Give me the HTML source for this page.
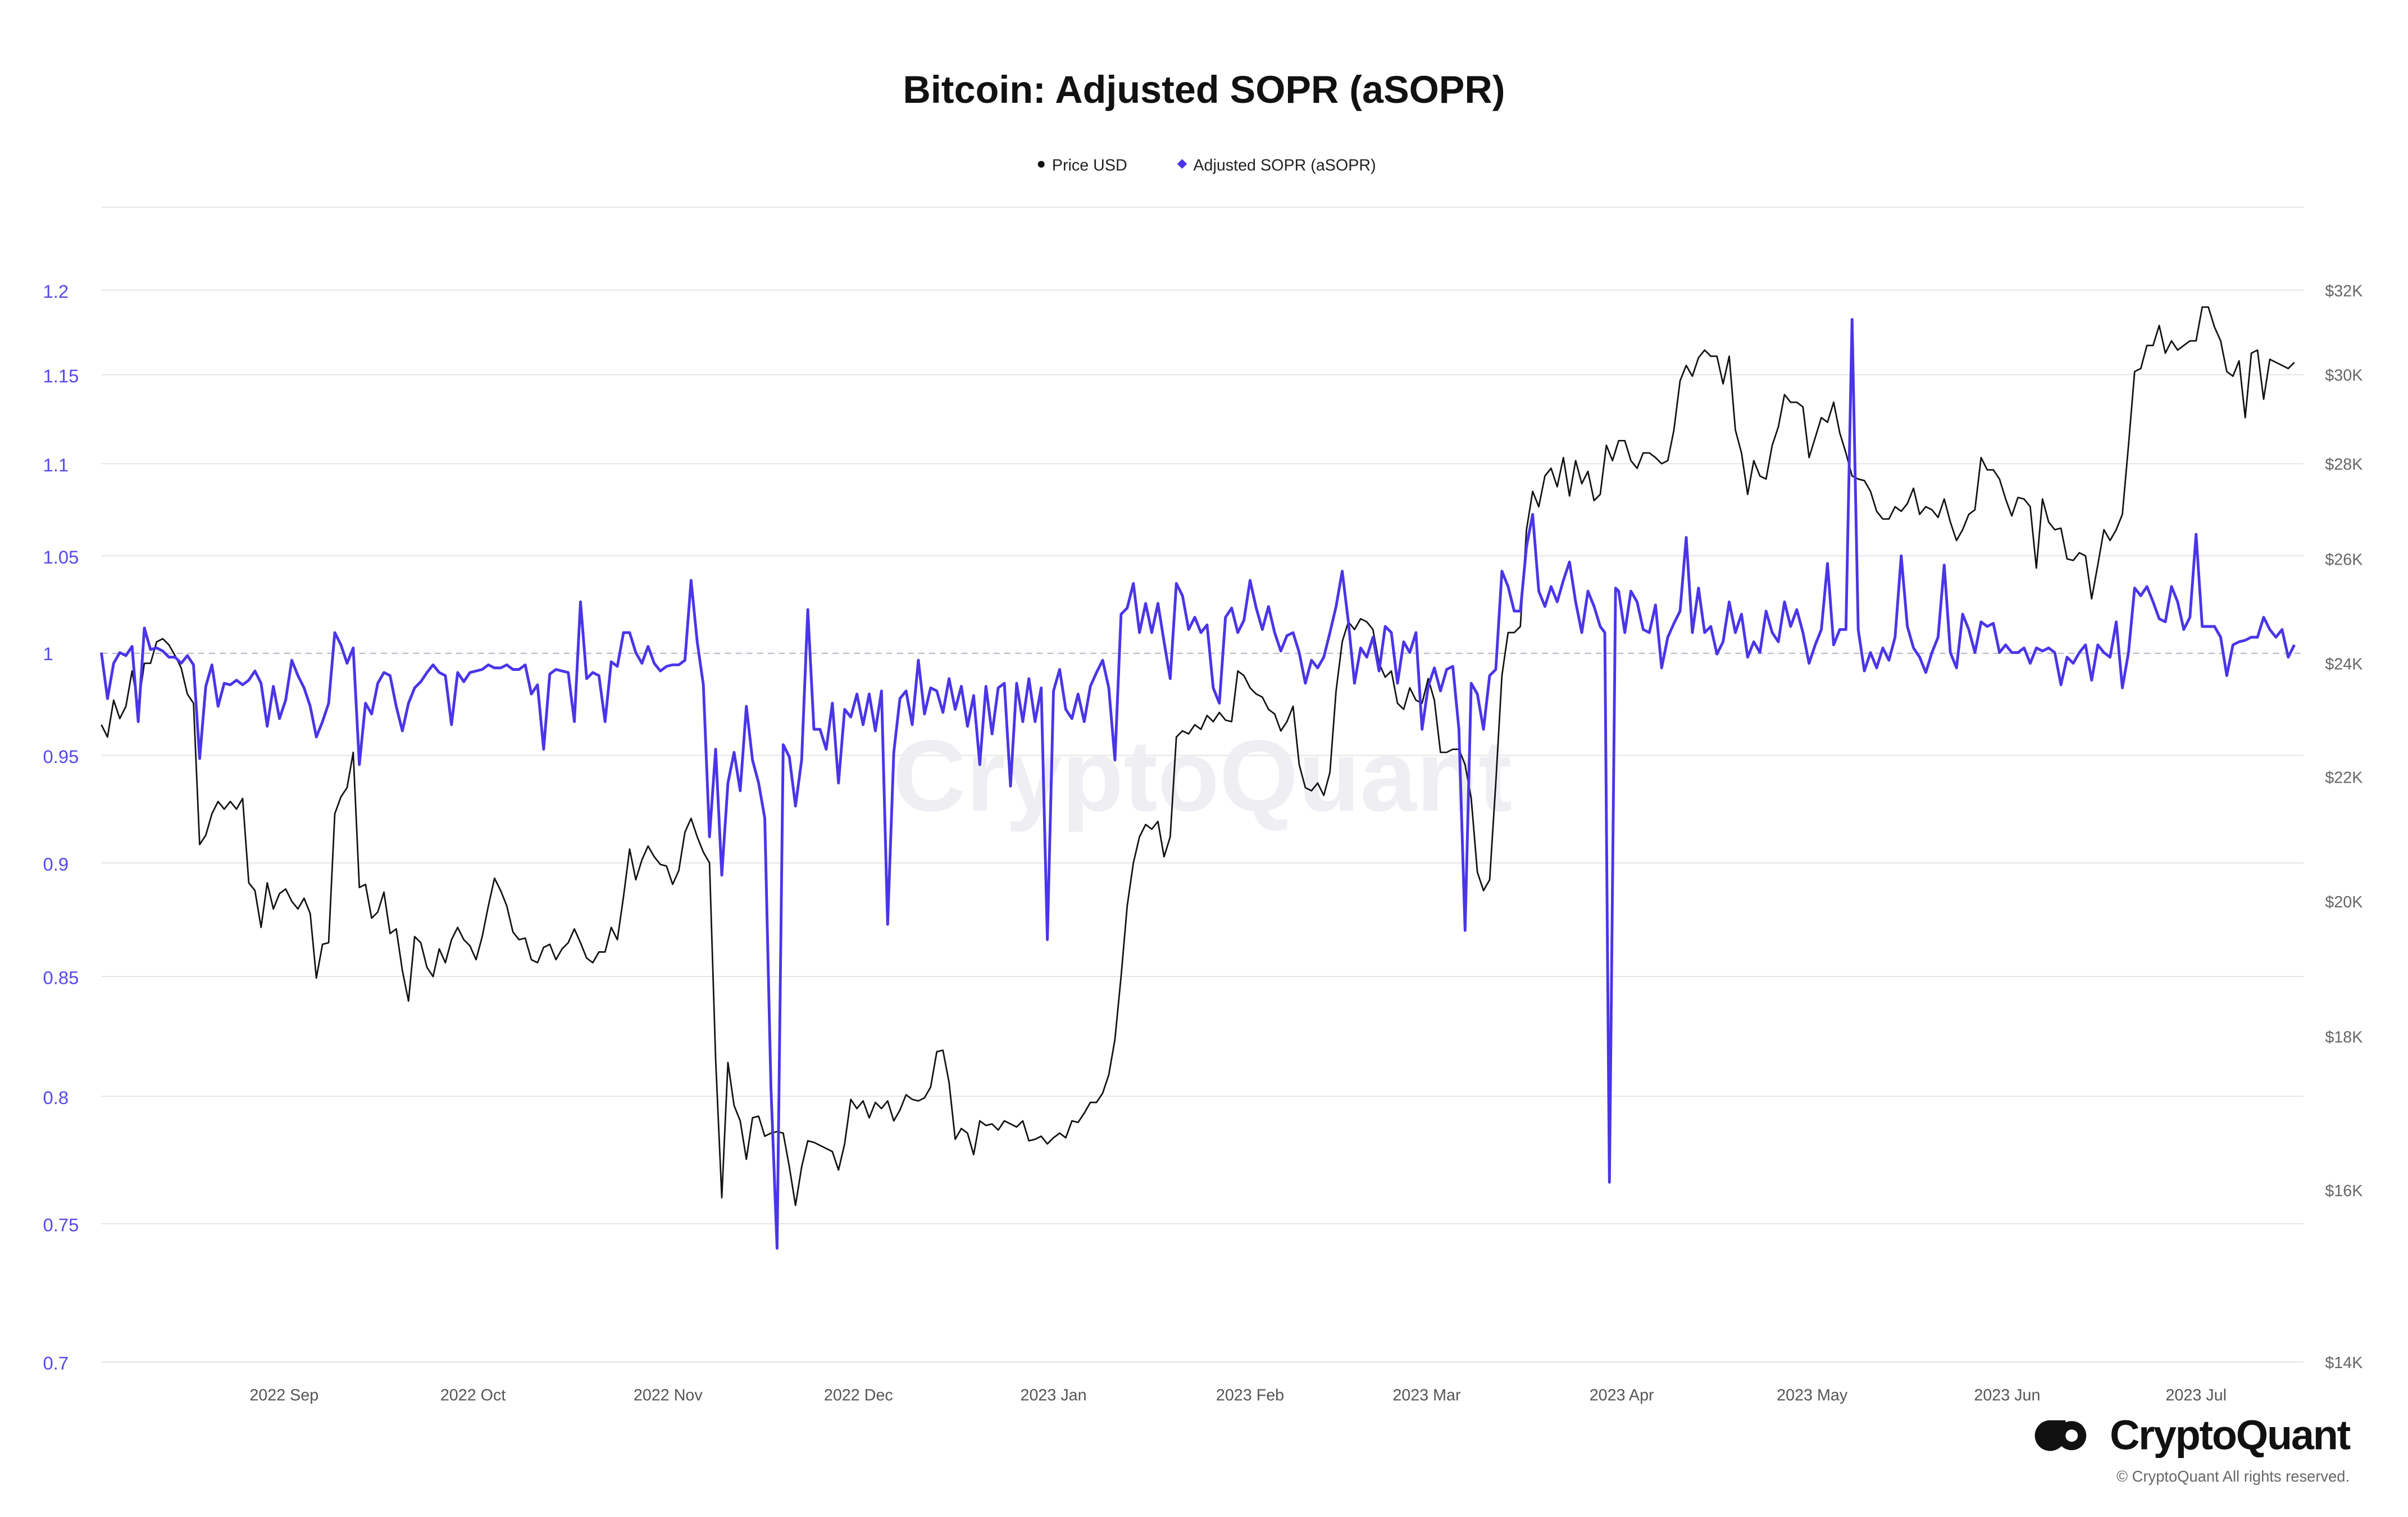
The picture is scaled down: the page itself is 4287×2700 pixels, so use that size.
<!DOCTYPE html>
<html><head><meta charset="utf-8"><style>
html,body{margin:0;padding:0;background:#fff;}
svg{display:block;}
text{font-family:"Liberation Sans",Arial,sans-serif;}
</style></head><body>
<svg width="4287" height="2700" viewBox="0 0 1568 988" preserveAspectRatio="none" xmlns="http://www.w3.org/2000/svg">
<rect width="1568" height="988" fill="#fff"/>
<text x="784" y="67" text-anchor="middle" font-size="25" font-weight="bold" fill="#111">Bitcoin: Adjusted SOPR (aSOPR)</text>
<circle cx="678" cy="107" r="2.2" fill="#111"/>
<text x="685" y="111" font-size="10.5" fill="#222">Price USD</text>
<rect x="767.5" y="104.5" width="4.5" height="4.5" transform="rotate(45 769.75 106.75)" fill="#4a35e8"/>
<text x="777" y="111" font-size="10.5" fill="#222">Adjusted SOPR (aSOPR)</text>
<g stroke="#e6e6e6" stroke-width="0.8">
<line x1="66" x2="1500" y1="135" y2="135"/><line x1="66" x2="1500" y1="189" y2="189"/><line x1="66" x2="1500" y1="244" y2="244"/><line x1="66" x2="1500" y1="302" y2="302"/><line x1="66" x2="1500" y1="362" y2="362"/><line x1="66" x2="1500" y1="492" y2="492"/><line x1="66" x2="1500" y1="562" y2="562"/><line x1="66" x2="1500" y1="636" y2="636"/><line x1="66" x2="1500" y1="714" y2="714"/><line x1="66" x2="1500" y1="797" y2="797"/><line x1="66" x2="1500" y1="887" y2="887"/>
</g>
<line x1="66" x2="1500" y1="425.5" y2="425.5" stroke="#b8b8c8" stroke-width="0.8" stroke-dasharray="4,3"/>
<text x="783" y="528" text-anchor="middle" font-size="66" font-weight="bold" fill="#eeeef3">CryptoQuant</text>
<g font-size="12" fill="#5548ee">
<text x="28" y="194">1.2</text><text x="28" y="249">1.15</text><text x="28" y="307">1.1</text><text x="28" y="367">1.05</text><text x="28" y="430">1</text><text x="28" y="497">0.95</text><text x="28" y="567">0.9</text><text x="28" y="641">0.85</text><text x="28" y="719">0.8</text><text x="28" y="802">0.75</text><text x="28" y="892">0.7</text>
</g>
<g font-size="10.5" fill="#666">
<text x="1514" y="193">$32K</text><text x="1514" y="248">$30K</text><text x="1514" y="306">$28K</text><text x="1514" y="368">$26K</text><text x="1514" y="436">$24K</text><text x="1514" y="510">$22K</text><text x="1514" y="591">$20K</text><text x="1514" y="679">$18K</text><text x="1514" y="779">$16K</text><text x="1514" y="891">$14K</text>
</g>
<g font-size="10.5" fill="#555" text-anchor="middle">
<text x="185" y="912">2022 Sep</text><text x="308" y="912">2022 Oct</text><text x="435" y="912">2022 Nov</text><text x="559" y="912">2022 Dec</text><text x="686" y="912">2023 Jan</text><text x="814" y="912">2023 Feb</text><text x="929" y="912">2023 Mar</text><text x="1056" y="912">2023 Apr</text><text x="1180" y="912">2023 May</text><text x="1307" y="912">2023 Jun</text><text x="1430" y="912">2023 Jul</text>
</g>
<polyline fill="none" stroke="#111" stroke-width="1" stroke-linejoin="round" points="66,472 70,480 74,456 78,468 82,460 86,437 90,460 94,432 98,432 102,418 106,416 110,420 114,427 118,435 122,452 126,458 130,550 134,544 138,530 142,522 146,527 150,522 154,527 158,520 162,575 166,580 170,604 174,575 178,592 182,582 186,579 190,587 194,592 198,585 202,595 206,637 210,615 214,614 218,530 222,519 226,513 230,490 234,578 238,576 242,598 246,594 250,581 254,608 258,605 262,632 266,652 270,610 274,614 278,630 282,636 286,618 290,627 294,612 298,604 302,612 306,616 310,625 314,610 318,590 322,572 326,580 330,590 334,607 338,612 342,611 346,625 350,627 354,617 358,615 362,625 366,618 370,614 374,605 378,614 382,624 386,627 390,620 394,620 398,604 402,612 406,584 410,553 414,573 418,560 422,551 426,558 430,563 434,564 438,576 442,567 446,542 450,533 454,545 458,555 462,562 466,690 470,780 474,692 478,720 482,730 486,755 490,728 494,727 498,740 502,738 506,737 510,738 514,760 518,785 522,760 526,743 530,744 534,746 538,748 542,750 546,762 550,745 554,716 558,722 562,717 566,728 570,718 574,722 578,717 582,730 586,723 590,713 594,716 598,717 602,715 606,708 610,685 614,684 618,705 622,742 626,735 630,738 634,752 638,730 642,733 646,732 650,736 654,730 658,732 662,734 666,730 670,743 674,742 678,740 682,745 686,741 690,738 694,741 698,730 702,731 706,725 710,718 714,718 718,712 722,700 726,677 730,636 734,590 738,562 742,545 746,537 750,540 754,535 758,558 762,545 766,480 770,476 774,478 778,472 782,475 786,466 790,470 794,464 798,469 802,470 806,437 810,440 814,448 818,452 822,454 826,462 830,465 834,476 838,470 842,460 846,498 850,513 854,515 858,510 862,518 866,503 870,450 874,418 878,405 882,410 886,403 890,405 894,410 898,432 902,441 906,437 910,458 914,462 918,448 922,456 926,458 930,442 934,456 938,490 942,490 946,488 950,488 954,498 958,520 962,568 966,580 970,573 974,510 978,440 982,412 986,412 990,408 994,345 998,320 1002,330 1006,310 1010,305 1014,317 1018,298 1022,323 1026,300 1030,315 1034,307 1038,326 1042,322 1046,290 1050,300 1054,287 1058,287 1062,300 1066,305 1070,295 1074,295 1078,298 1082,302 1086,300 1090,280 1094,248 1098,238 1102,245 1106,233 1110,228 1114,232 1118,232 1122,250 1126,232 1130,280 1134,295 1138,322 1142,300 1146,310 1150,312 1154,290 1158,278 1162,257 1166,262 1170,262 1174,265 1178,298 1182,285 1186,272 1190,275 1194,262 1198,282 1202,295 1206,310 1210,312 1214,313 1218,320 1222,333 1226,338 1230,338 1234,330 1238,333 1242,328 1246,318 1250,335 1254,330 1258,332 1262,337 1266,325 1270,340 1274,352 1278,345 1282,335 1286,332 1290,298 1294,306 1298,306 1302,312 1306,325 1310,336 1314,324 1318,325 1322,330 1326,370 1330,325 1334,340 1338,345 1342,344 1346,364 1350,365 1354,360 1358,362 1362,390 1366,368 1370,345 1374,352 1378,345 1382,335 1386,290 1390,242 1394,240 1398,225 1402,225 1406,212 1410,230 1414,222 1418,228 1422,225 1426,222 1430,222 1434,200 1438,200 1442,213 1446,222 1450,242 1454,245 1458,235 1462,272 1466,230 1470,228 1474,260 1478,234 1482,236 1486,238 1490,240 1494,236"/>
<polyline fill="none" stroke="#4a35e8" stroke-width="1.8" stroke-linejoin="round" points="66,425 70,455 74,432 78,425 82,427 86,421 90,470 94,409 98,423 102,422 106,424 110,428 114,428 118,432 122,427 126,433 130,494 134,447 138,433 142,460 146,445 150,446 154,443 158,446 162,443 166,437 170,445 174,473 178,447 182,468 186,456 190,430 194,440 198,448 202,460 206,480 210,470 214,458 218,412 222,420 226,432 230,422 234,498 238,458 242,465 246,445 250,438 254,440 258,460 262,476 266,458 270,448 274,444 278,438 282,433 286,438 290,440 294,472 298,438 302,444 306,438 310,437 314,436 318,433 322,435 326,435 330,433 334,436 338,436 342,433 346,452 350,446 354,488 358,439 362,436 366,437 370,438 374,470 378,392 382,442 386,438 390,440 394,470 398,431 402,434 406,412 410,412 414,425 418,432 422,421 426,432 430,437 434,434 438,433 442,433 446,430 450,378 454,418 458,446 462,545 466,488 470,570 474,510 478,490 482,515 486,460 490,495 494,510 498,533 502,708 506,813 510,485 514,493 518,525 522,495 526,397 530,475 534,475 538,488 542,458 546,510 550,462 554,467 558,452 562,472 566,452 570,476 574,450 578,602 582,490 586,455 590,450 594,472 598,430 602,465 606,448 610,450 614,464 618,442 622,462 626,447 630,473 634,453 638,498 642,447 646,478 650,448 654,445 658,512 662,445 666,470 670,442 674,470 678,448 682,612 686,450 690,436 694,462 698,468 702,452 706,470 710,447 714,438 718,430 722,448 726,495 730,400 734,396 738,380 742,412 746,393 750,412 754,393 758,418 762,442 766,380 770,388 774,410 778,402 782,412 786,407 790,448 794,458 798,402 802,396 806,412 810,404 814,378 818,396 822,410 826,395 830,412 834,424 838,414 842,412 846,425 850,445 854,430 858,435 862,428 866,412 870,395 874,372 878,405 882,445 886,422 890,428 894,415 898,437 902,408 906,412 910,445 914,418 918,425 922,412 926,475 930,447 934,435 938,450 942,436 946,434 950,475 954,606 958,445 962,452 966,475 970,440 974,436 978,372 982,382 986,398 990,398 994,356 998,335 1002,385 1006,395 1010,382 1014,392 1018,378 1022,366 1026,392 1030,412 1034,385 1038,395 1042,408 1045,412 1048,770 1052,383 1054,385 1058,412 1062,385 1066,392 1070,410 1074,412 1078,394 1082,435 1086,415 1090,406 1094,398 1098,350 1102,412 1106,383 1110,412 1114,408 1118,426 1122,418 1126,392 1130,412 1134,400 1138,428 1142,418 1146,425 1150,398 1154,412 1158,418 1162,392 1166,408 1170,397 1174,412 1178,432 1182,420 1186,410 1190,367 1194,420 1198,410 1202,410 1206,208 1210,410 1214,437 1218,425 1222,435 1226,422 1230,430 1234,415 1238,362 1242,408 1246,422 1250,428 1254,438 1258,425 1262,415 1266,368 1270,425 1274,435 1278,400 1282,410 1286,425 1290,405 1294,408 1298,406 1302,425 1306,420 1310,425 1314,425 1318,422 1322,432 1326,422 1330,424 1334,422 1338,425 1342,446 1346,428 1350,432 1354,425 1358,420 1362,443 1366,420 1370,425 1374,428 1378,405 1382,448 1386,425 1390,383 1394,388 1398,382 1402,392 1406,403 1410,405 1414,382 1418,392 1422,410 1426,402 1430,348 1434,408 1438,408 1442,408 1446,415 1450,440 1454,420 1458,418 1462,417 1466,415 1470,415 1474,402 1478,410 1482,415 1486,410 1490,428 1494,420"/>
<g transform="translate(1325,924)">
<path d="M10 1 A10 10 0 1 0 20 11 L20 1 Z" fill="#111"/>
<circle cx="24" cy="11" r="9.5" fill="#111"/><circle cx="24" cy="11" r="4" fill="#fff"/>
</g>
<text x="1530" y="944" text-anchor="end" font-size="27" font-weight="bold" fill="#111" letter-spacing="-0.8">CryptoQuant</text>
<text x="1530" y="965" text-anchor="end" font-size="10" fill="#666">© CryptoQuant All rights reserved.</text>
</svg>
</body></html>
